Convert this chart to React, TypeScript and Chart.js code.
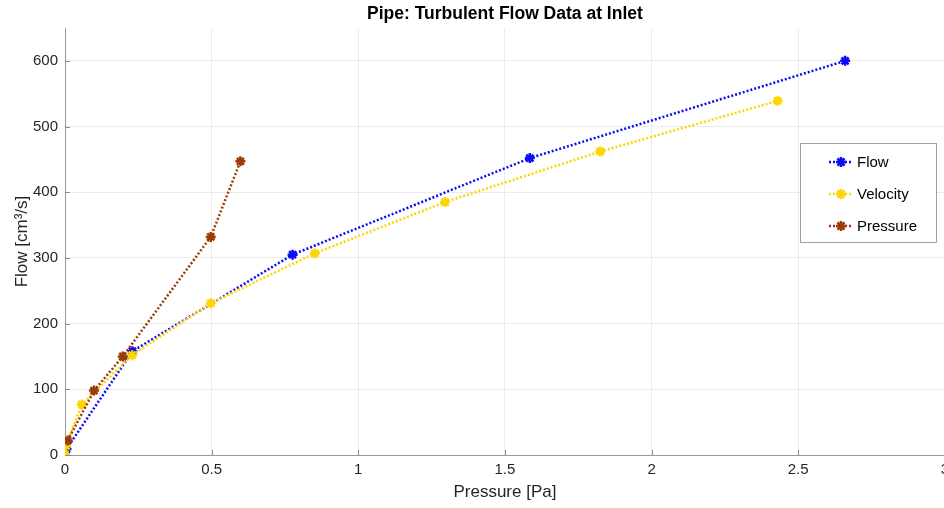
import React, { useEffect, useRef } from "react";
import { Chart, registerables } from "chart.js";

Chart.register(...registerables);

const flowX = [0.005, 0.23, 0.776, 1.585, 2.66];
const flowY = [9, 158, 305, 452, 600];
const velocityX = [0.0, 0.003, 0.057, 0.229, 0.497, 0.852, 1.296, 1.825, 2.43];
const velocityY = [1, 14, 77, 152, 231, 307, 385, 462, 539];
const pressureX = [0.009, 0.099, 0.197, 0.497, 0.598];
const pressureY = [22, 98, 150, 332, 447];

const xTickValues = [0, 0.5, 1, 1.5, 2, 2.5, 3];
const yTickValues = [0, 100, 200, 300, 400, 500, 600];

const TITLE = "Pipe: Turbulent Flow Data at Inlet";
const FONT = "'Liberation Sans', Arial, Helvetica, sans-serif";

const toPoints = (xs: number[], ys: number[]) => xs.map((x, i) => ({ x, y: ys[i] }));

const innerTicks = {
  id: "innerTicks",
  beforeDatasetsDraw(chart: any) {
    const { ctx, chartArea, scales } = chart;
    ctx.save();
    ctx.strokeStyle = "#8c8c8c";
    ctx.lineWidth = 1;
    ctx.beginPath();
    xTickValues.forEach((v) => {
      const px = Math.round(scales.x.getPixelForValue(v)) + 0.5;
      ctx.moveTo(px, chartArea.bottom);
      ctx.lineTo(px, chartArea.bottom - 5);
    });
    yTickValues.forEach((v) => {
      const py = Math.round(scales.y.getPixelForValue(v)) + 0.5;
      ctx.moveTo(chartArea.left, py);
      ctx.lineTo(chartArea.left + 5, py);
    });
    ctx.stroke();
    ctx.restore();
  },
};

const plotTitle = {
  id: "plotTitle",
  afterDraw(chart: any) {
    const { ctx, chartArea } = chart;
    ctx.save();
    ctx.fillStyle = "#000000";
    ctx.font = `bold 17.5px ${FONT}`;
    ctx.textAlign = "center";
    ctx.textBaseline = "middle";
    ctx.fillText(TITLE, (chartArea.left + chartArea.right) / 2, 14);
    ctx.restore();
  },
};

const boxLegend = {
  id: "boxLegend",
  afterDraw(chart: any) {
    const { ctx } = chart;
    const left = 800;
    const top = 143;
    const w = 136;
    const h = 99;
    ctx.save();
    ctx.fillStyle = "#ffffff";
    ctx.fillRect(left, top, w, h);
    ctx.strokeStyle = "#a0a0a0";
    ctx.lineWidth = 1;
    ctx.strokeRect(left + 0.5, top + 0.5, w, h);
    const rows = [162, 194, 226];
    chart.data.datasets.forEach((ds: any, i: number) => {
      const y = rows[i];
      ctx.strokeStyle = ds.borderColor;
      ctx.lineWidth = 2.5;
      ctx.setLineDash([2, 2]);
      ctx.beginPath();
      ctx.moveTo(829, y);
      ctx.lineTo(853, y);
      ctx.stroke();
      ctx.setLineDash([]);
      ctx.lineWidth = 2.5;
      const r = 5;
      ctx.beginPath();
      for (let k = 0; k < 4; k++) {
        const a = (Math.PI / 4) * k;
        ctx.moveTo(841 + r * Math.cos(a), y + r * Math.sin(a));
        ctx.lineTo(841 - r * Math.cos(a), y - r * Math.sin(a));
      }
      ctx.stroke();
      ctx.fillStyle = "#000000";
      ctx.font = `15px ${FONT}`;
      ctx.textBaseline = "middle";
      ctx.textAlign = "left";
      ctx.fillText(ds.label, 857, y + 1);
    });
    ctx.restore();
  },
};

export default function App() {
  const canvasRef = useRef<HTMLCanvasElement | null>(null);

  useEffect(() => {
    document.body.style.margin = "0";
    document.body.style.overflow = "hidden";
    const canvas = canvasRef.current;
    if (!canvas) return;
    const mk = (label: string, color: string, xs: number[], ys: number[], order: number) => ({
      label,
      data: toPoints(xs, ys),
      borderColor: color,
      backgroundColor: color,
      borderWidth: 2.5,
      borderDash: [2, 2],
      pointStyle: "star",
      pointRadius: 5,
      pointBorderWidth: 2.5,
      pointBorderColor: color,
      pointBackgroundColor: color,
      tension: 0,
      fill: false,
      order,
    });
    const chart = new Chart(canvas, {
      type: "line",
      data: {
        datasets: [
          mk("Flow", "#0b0bf5", flowX, flowY, 3),
          mk("Velocity", "#ffd400", velocityX, velocityY, 2),
          mk("Pressure", "#9c3a08", pressureX, pressureY, 1),
        ] as any,
      },
      options: {
        animation: false,
        responsive: true,
        maintainAspectRatio: false,
        layout: { padding: { left: 0, right: 0, top: 28, bottom: 0 } },
        plugins: {
          legend: { display: false },
          tooltip: { enabled: false },
          title: { display: false },
        },
        scales: {
          x: {
            type: "linear",
            min: 0,
            max: 3,
            afterBuildTicks: (s: any) => {
              s.ticks = xTickValues.map((v) => ({ value: v }));
            },
            afterFit: (s: any) => {
              s.height = 53;
            },
            grid: { color: "#ebebeb", drawTicks: false },
            border: { color: "#9a9a9a", width: 1 },
            ticks: {
              padding: 6,
              color: "#262626",
              font: { family: FONT, size: 15 },
              maxRotation: 0,
              autoSkip: false,
              callback: (v: any) => String(v),
            },
            title: {
              display: true,
              text: "Pressure [Pa]",
              color: "#262626",
              font: { family: FONT, size: 17 },
              padding: { top: 0, bottom: 5 },
            },
          },
          y: {
            type: "linear",
            min: 0,
            max: 650,
            afterBuildTicks: (s: any) => {
              s.ticks = yTickValues.map((v) => ({ value: v }));
            },
            afterFit: (s: any) => {
              s.width = 65;
            },
            grid: { color: "#ebebeb", drawTicks: false },
            border: { color: "#9a9a9a", width: 1 },
            ticks: {
              padding: 7,
              color: "#262626",
              font: { family: FONT, size: 15 },
              autoSkip: false,
              callback: (v: any) => String(v),
            },
            title: {
              display: true,
              text: "Flow [cm³/s]",
              color: "#262626",
              font: { family: FONT, size: 17 },
              padding: { top: 12, bottom: 0 },
            },
          },
        },
      } as any,
      plugins: [innerTicks, plotTitle, boxLegend],
    });
    return () => chart.destroy();
  }, []);

  return (
    <div style={{ position: "relative", width: 944, height: 508, overflow: "hidden" }}>
      <div style={{ position: "absolute", left: 0, top: 0, width: 955, height: 508 }}>
        <canvas ref={canvasRef} />
      </div>
    </div>
  );
}
